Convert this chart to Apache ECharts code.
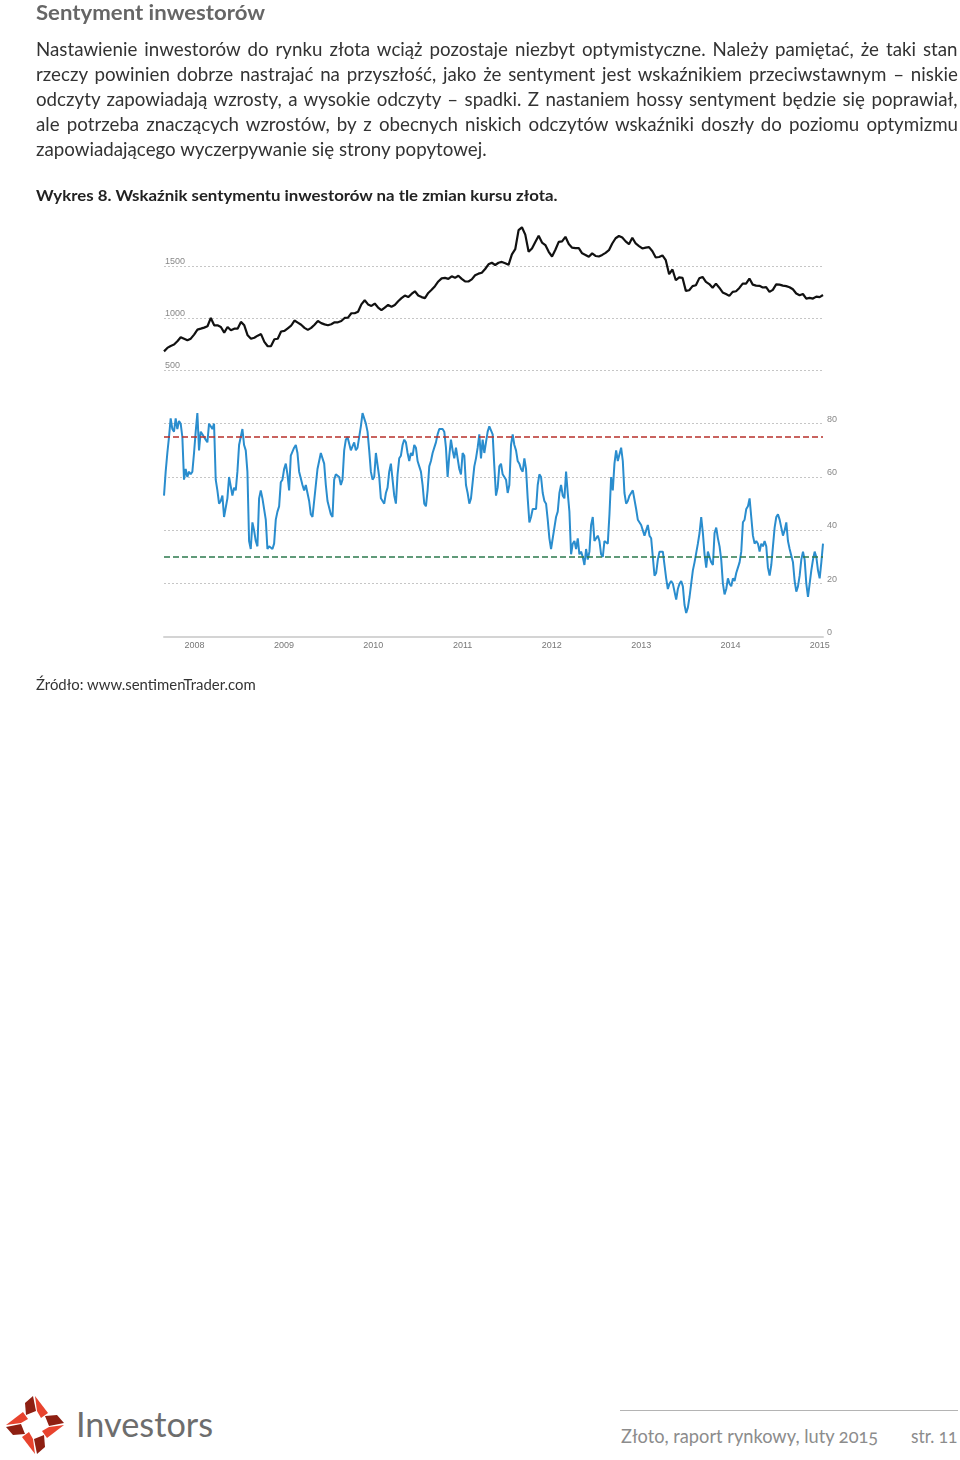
<!DOCTYPE html>
<html lang="pl"><head><meta charset="utf-8"><title>Sentyment inwestorów</title>
<script src="https://cdn.jsdelivr.net/npm/echarts@6/dist/echarts.min.js"></script>
<style>
html,body{margin:0;padding:0;background:#fff}
body{position:relative;width:960px;height:1460px;overflow:hidden;font-family:Lato,"Noto Sans",sans-serif}
.t{position:absolute;display:inline-block;white-space:nowrap;line-height:1;transform-origin:0 0}
.b{font-size:18.7px;color:#333}
#chart{position:absolute;left:0;top:0;width:960px;height:720px}
#rule{position:absolute;left:620px;top:1410px;width:338px;height:1px;background:#b4b4b4}
#logo{position:absolute;left:3px;top:1393px}
</style></head><body>
<div id="chart"></div>
<span class="t" data-w="229" style="left:36px;top:1px;font-size:21px;font-weight:700;color:#666">Sentyment inwestorów</span>
<span class="t b jl" style="left:36px;top:39.5px">Nastawienie inwestorów do rynku złota wciąż pozostaje niezbyt optymistyczne. Należy pamiętać, że taki stan</span>
<span class="t b jl" style="left:36px;top:64.5px">rzeczy powinien dobrze nastrajać na przyszłość, jako że sentyment jest wskaźnikiem przeciwstawnym – niskie</span>
<span class="t b jl" style="left:36px;top:89.5px">odczyty zapowiadają wzrosty, a wysokie odczyty – spadki. Z nastaniem hossy sentyment będzie się poprawiał,</span>
<span class="t b jl" style="left:36px;top:114.5px">ale potrzeba znaczących wzrostów, by z obecnych niskich odczytów wskaźniki doszły do poziomu optymizmu</span>
<span class="t b" id="lastline" style="left:36px;top:139.5px">zapowiadającego wyczerpywanie się strony popytowej.</span>
<span class="t" data-w="521" style="left:36px;top:187.5px;font-size:15px;font-weight:700;color:#222">Wykres 8. Wskaźnik sentymentu inwestorów na tle zmian kursu złota.</span>
<span class="t" data-w="220" style="left:36px;top:678px;font-size:14.5px;color:#333">Źródło: www.sentimenTrader.com</span>
<svg id="logo" width="64" height="64" viewBox="-32 -32 64 64">
  <g id="blade">
    <polygon points="-2,-29 1,-14 -9,-10 -10,-22" fill="#8e1f12"/>
    <polygon points="0,-29 13,-12 6,-7 2,-14" fill="#e8432e"/>
  </g>
  <use href="#blade" transform="rotate(90)"/>
  <use href="#blade" transform="rotate(180)"/>
  <use href="#blade" transform="rotate(270)"/>
</svg>
<span class="t" data-w="137" style="left:76px;top:1406px;font-size:35px;color:#6d6d6d">Investors</span>
<div id="rule"></div>
<span class="t" data-w="257" style="left:621px;top:1426px;font-size:19.5px;color:#8c8c8c;font-variant-numeric:oldstyle-nums">Złoto, raport rynkowy, luty 2015</span>
<span class="t" data-w="46" style="left:911px;top:1426px;font-size:19.5px;color:#8c8c8c;font-variant-numeric:oldstyle-nums">str. 11</span>
<script>
// ---------- data ----------
const START_DATE = '2007-08-29';
const END_DATE = '2015-01-14';
const YEAR_LABELS = ['2008','2009','2010','2011','2012','2013','2014','2015'];
const GOLD_TICKS = [500, 1000, 1500];
const SENTIMENT_TICKS = [0, 20, 40, 60, 80];
const UPPER_THRESHOLD = 75;
const LOWER_THRESHOLD = 30;

// Gold price (USD/oz), roughly every two weeks
const GOLD = [
679,712,731,744,776,815,800,785,801,840,
888,897,907,920,1000,929,929,913,859,913,
881,897,897,962,929,833,800,810,830,845,
770,728,730,795,800,870,875,900,925,975,
955,935,905,885,905,935,970,950,938,930,
940,958,958,970,1000,1003,1045,1045,1060,1130,
1170,1130,1115,1138,1100,1075,1100,1125,1108,1125,
1160,1190,1215,1200,1230,1256,1215,1200,1190,1240,
1270,1305,1350,1380,1385,1375,1400,1385,1405,1375,
1350,1350,1370,1410,1425,1434,1470,1515,
1530,1508,1530,1538,1525,1510,1610,1660,1843,1870,
1800,1635,1667,1730,1790,1724,1700,1635,1590,1655,
1730,1735,1779,1710,1675,1670,1670,1620,1605,1587,
1620,1595,1590,1605,1625,1650,1715,1765,1787,1772,
1735,1708,1770,1715,1690,1667,1675,1680,1640,1580,
1585,1600,1554,1420,1465,1362,1390,1385,1260,1266,
1305,1314,1380,1394,1346,1325,1290,1330,1290,1245,
1230,1212,1250,1256,1288,1330,1330,1378,1320,1310,
1308,1292,1295,1250,1270,1322,1320,1310,1305,1295,
1275,1235,1218,1230,1186,1192,1186,1205,1200,1220
];

// Investor sentiment indicator (%), roughly weekly
const SENTIMENT = [
53,62,69,75,82,78,77,82,78,81,
80,75,59,63,60,62,61,62,69,77,
84,70,77,76,76,74,73,80,79,78,
80,59,55,50,51,53,45,45,52,60,
60,53,56,55,62,72,75,78,72,70,
62,36,33,43,40,36,34,52,55,52,
52,44,33,34,34,33,35,44,47,49,
58,59,63,65,61,55,68,68,71,72,
69,62,62,57,55,57,54,51,46,45,
45,57,63,66,69,69,65,57,51,51,
46,45,59,61,61,60,57,59,70,74,
75,75,70,70,73,70,71,71,79,84,
82,80,77,70,62,59,60,69,69,60,
52,52,50,
54,56,62,65,59,53,50,61,67,68,
72,74,73,69,66,69,68,72,71,66,
64,62,57,50,49,55,64,66,69,71,
73,76,78,78,78,77,71,60,68,74,
70,67,71,71,63,61,69,68,57,54,
50,52,58,64,67,71,76,67,74,69,
73,77,79,79,76,64,53,56,64,65,
61,60,59,54,57,72,76,72,70,66,
65,63,62,67,63,52,43,45,48,48,
48,57,61,60,54,51,50,44,37,33,
33,41,45,47,54,57,53,52,62,54,
47,31,35,36,33,37,31,32,30,27,
33,29,32,42,45,36,36,38,36,31,
30,36,
36,35,46,60,55,65,70,66,66,71,
66,54,50,51,53,54,55,55,48,44,
44,42,40,38,40,42,38,37,30,23,
24,29,32,32,32,27,22,18,20,21,
20,20,14,18,20,21,19,12,9,11,
15,20,25,28,28,35,39,45,39,31,
26,32,32,28,27,39,41,37,34,29,
20,16,18,22,20,19,22,21,24,26,
28,32,43,44,48,49,52,45,38,35,
36,35,32,35,34,36,34,26,23,27,
34,41,45,46,44,41,38,40,43,36,
33,33,28,21,17,19,23,29,32,29,
20,15,20,25,29,32,30,25,22,28,
35
];

// ---------- chart ----------
const T0 = Date.parse(START_DATE + 'T00:00:00Z');
const T1 = Date.parse(END_DATE + 'T00:00:00Z');
function withDates(values) {
  const step = (T1 - T0) / (values.length - 1);
  return values.map((v, i) => [T0 + i * step, v]);
}
const YEAR_MS = 365 * 86400000;
const tickFont = '"Liberation Sans", Arial, sans-serif';

const chart = echarts.init(document.getElementById('chart'));
chart.setOption({
  animation: false,
  useUTC: true,
  grid: [
    { left: 164, width: 659, top: 219, height: 151 },
    { left: 164, width: 659, top: 397, height: 240 }
  ],
  xAxis: [
    { type: 'time', gridIndex: 0, min: T0, max: T1, show: false },
    {
      type: 'time', gridIndex: 1, min: T0, max: T1,
      minInterval: YEAR_MS, maxInterval: YEAR_MS,
      splitLine: { show: false },
      axisTick: { show: false },
      axisLine: { show: true, lineStyle: { color: '#d4d4d4', width: 2 } },
      axisLabel: {
        color: '#777', fontSize: 9, fontFamily: tickFont, margin: 4, hideOverlap: false,
        formatter: function (v) {
          const d = new Date(v);
          const y = String(d.getUTCFullYear());
          return (d.getUTCMonth() === 0 && d.getUTCDate() === 1 && YEAR_LABELS.indexOf(y) >= 0) ? y : '';
        }
      }
    }
  ],
  yAxis: [
    {
      type: 'value', gridIndex: 0, min: 500, max: 1950, interval: 500, position: 'left',
      axisLine: { show: false }, axisTick: { show: false },
      axisLabel: {
        inside: true, align: 'left', verticalAlign: 'bottom', margin: 1,
        color: '#888', fontSize: 9, fontFamily: tickFont, showMaxLabel: false,
        formatter: v => GOLD_TICKS.indexOf(v) >= 0 ? String(v) : ''
      },
      splitLine: { show: true, showMaxLine: false, lineStyle: { type: [2, 2], color: '#c6c6c6', width: 1 } }
    },
    {
      type: 'value', gridIndex: 1, min: 0, max: 90, interval: 20, position: 'right',
      axisLine: { show: false }, axisTick: { show: false },
      axisLabel: {
        align: 'left', verticalAlign: 'bottom', margin: 4,
        color: '#888', fontSize: 9, fontFamily: tickFont, showMaxLabel: false,
        formatter: v => SENTIMENT_TICKS.indexOf(v) >= 0 ? String(v) : ''
      },
      splitLine: { show: true, showMaxLine: false, showMinLine: false, lineStyle: { type: [2, 2], color: '#c6c6c6', width: 1 } }
    }
  ],
  series: [
    {
      name: 'Złoto', type: 'line', xAxisIndex: 0, yAxisIndex: 0,
      data: withDates(GOLD), showSymbol: false, symbol: 'none',
      lineStyle: { color: '#111', width: 2.2 }, z: 3
    },
    {
      name: 'Sentyment', type: 'line', xAxisIndex: 1, yAxisIndex: 1,
      data: withDates(SENTIMENT), showSymbol: false, symbol: 'none',
      lineStyle: { color: '#2a8dce', width: 2 }, z: 3,
      markLine: {
        silent: true, symbol: ['none', 'none'], label: { show: false },
        data: [
          { yAxis: UPPER_THRESHOLD, lineStyle: { color: '#b8312b', type: [6, 3], width: 1.6 } },
          { yAxis: LOWER_THRESHOLD, lineStyle: { color: '#2c7a4d', type: [6, 3], width: 1.6 } }
        ]
      }
    }
  ]
});

// ---------- text fitting ----------
function fitAll() {
  document.querySelectorAll('[data-w]').forEach(el => {
    el.style.transform = '';
    const w = el.offsetWidth;
    el.style.transform = 'scaleX(' + (parseFloat(el.dataset.w) / w) + ')';
  });
  const last = document.getElementById('lastline');
  last.style.transform = '';
  const s = 451 / last.offsetWidth;
  last.style.transform = 'scaleX(' + s + ')';
  document.querySelectorAll('.jl').forEach(el => {
    el.style.wordSpacing = '0px'; el.style.transform = '';
    const w = el.offsetWidth;
    const spaces = (el.textContent.match(/ /g) || []).length;
    const target = 922 / s;
    if (w < target) {
      el.style.wordSpacing = ((target - w) / spaces) + 'px';
      el.style.transform = 'scaleX(' + s + ')';
    } else {
      el.style.transform = 'scaleX(' + (922 / w) + ')';
    }
  });
}
fitAll();
if (document.fonts && document.fonts.ready) document.fonts.ready.then(fitAll);
</script>
</body></html>
